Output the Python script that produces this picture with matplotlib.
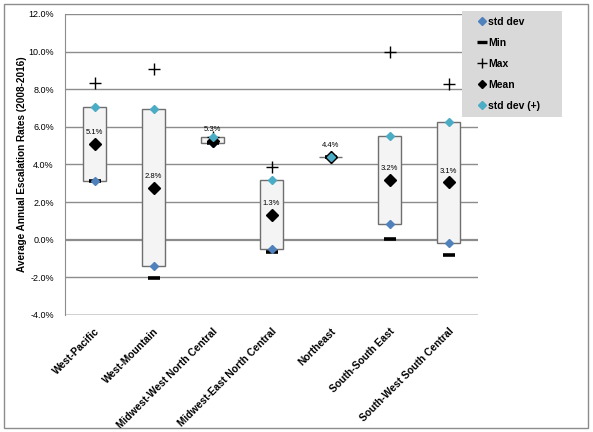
import matplotlib.pyplot as plt
from matplotlib.ticker import FuncFormatter
from matplotlib.lines import Line2D
import numpy as np

plt.rcParams['font.family'] = ['Liberation Sans', 'DejaVu Sans']

# regions and statistics (%)
regions = ['West-Pacific', 'West-Mountain', 'Midwest-West North Central',
           'Midwest-East North Central', 'Northeast', 'South-South East',
           'South-West South Central']
std_lo = [3.10, -1.38, 5.15, -0.50, 4.40, 0.85, -0.18]
std_hi = [7.07, 6.93, 5.45, 3.20, 4.40, 5.50, 6.28]
mins = [3.10, -2.05, 5.15, -0.64, 4.40, 0.05, -0.81]
maxs = [8.35, 9.05, 5.45, 3.85, 4.40, 9.98, 8.28]
means = [5.10, 2.77, 5.25, 1.33, 4.41, 3.19, 3.05]
mean_labels = ['5.1%', '2.8%', '5.3%', '1.3%', '4.4%', '3.2%', '3.1%']

blue = '#4F81BD'
teal = '#4BACC6'

fig = plt.figure(figsize=(5.93, 4.32), dpi=100)
ax = fig.add_axes([65/593, 1-315/432, 413/593, 301/432])
x = np.arange(len(regions))

for yv in np.arange(-2, 12.1, 2):
    ax.axhline(yv, color='#8C8C8C', lw=1.0 if yv != 0 else 1.6, zorder=0)
ax.axhline(-4, color='#C8C8C8', lw=1.2, zorder=0)

heights = [h - l for h, l in zip(std_hi, std_lo)]
ax.bar(x, heights, bottom=std_lo, width=0.4, color='#F4F4F4',
       edgecolor='#6F6F6F', lw=1.0, zorder=2)

ax.plot(x, std_lo, ls='none', marker='D', ms=4.5, color=blue, zorder=4)
ax.plot(x, mins, ls='none', marker='_', ms=8, mew=2.6, color='black', zorder=3)
ax.plot(x, maxs, ls='none', marker='+', ms=9, mew=1.0, color='black', zorder=3)
ax.plot(x, means, ls='none', marker='D', ms=6.5, color='black', zorder=5)
ax.plot(x, std_hi, ls='none', marker='D', ms=4.5, color=teal, zorder=6)

for xi, m, lab in zip(x, means, mean_labels):
    ax.annotate(lab, (xi, m), xytext=(0, 5.5), textcoords='offset points',
                ha='center', va='bottom', fontsize=5.5, zorder=7)

ax.set_xlim(-0.5, len(regions) - 0.5)
ax.set_ylim(-4, 12)
ax.set_yticks(np.arange(-4, 12.1, 2))
ax.yaxis.set_major_formatter(FuncFormatter(lambda v, p: '%.1f%%' % v))
ax.tick_params(axis='y', length=0, labelsize=6.5, pad=8)
ax.tick_params(axis='x', length=0, pad=8)
ax.set_xticks(x)
ax.set_xticklabels(regions, rotation=45, ha='right', rotation_mode='anchor',
                   fontsize=7.4, fontweight='bold')
for s in ['top', 'right', 'bottom']:
    ax.spines[s].set_visible(False)
ax.spines['left'].set_color('#8C8C8C')
ax.set_ylabel('Average Annual Escalation Rates (2008-2016)', fontsize=7.2,
              fontweight='bold')
ax.yaxis.set_label_coords(-0.092, 0.5)

# legend background and entries
fig.add_artist(plt.Rectangle((462/593, 1-117/432), 100/593, 106/432,
                             facecolor='#D9D9D9', edgecolor='none',
                             transform=fig.transFigure, zorder=10))
handles = [
    Line2D([], [], ls='none', marker='D', ms=4, color=blue),
    Line2D([], [], ls='none', marker='_', ms=7, mew=2.4, color='black'),
    Line2D([], [], ls='none', marker='+', ms=7, mew=1.0, color='black'),
    Line2D([], [], ls='none', marker='D', ms=4.5, color='black'),
    Line2D([], [], ls='none', marker='D', ms=4, color=teal),
]
leg = fig.legend(handles, ['std dev', 'Min', 'Max', 'Mean', 'std dev (+)'],
                 loc='upper left', bbox_to_anchor=(479/593, 1-17/432),
                 bbox_transform=fig.transFigure, frameon=False,
                 prop={'size': 7.5, 'weight': 'bold'}, handlelength=0.6,
                 handletextpad=0.3, labelspacing=1.05, borderpad=0,
                 borderaxespad=0)
leg.set_zorder(11)

# outer border
fig.add_artist(plt.Rectangle((4/593, 4/432), 584/593, 424/432, fill=False,
                             edgecolor='#8C8C8C', lw=1.0,
                             transform=fig.transFigure))

fig.savefig('out.png', dpi=100)
